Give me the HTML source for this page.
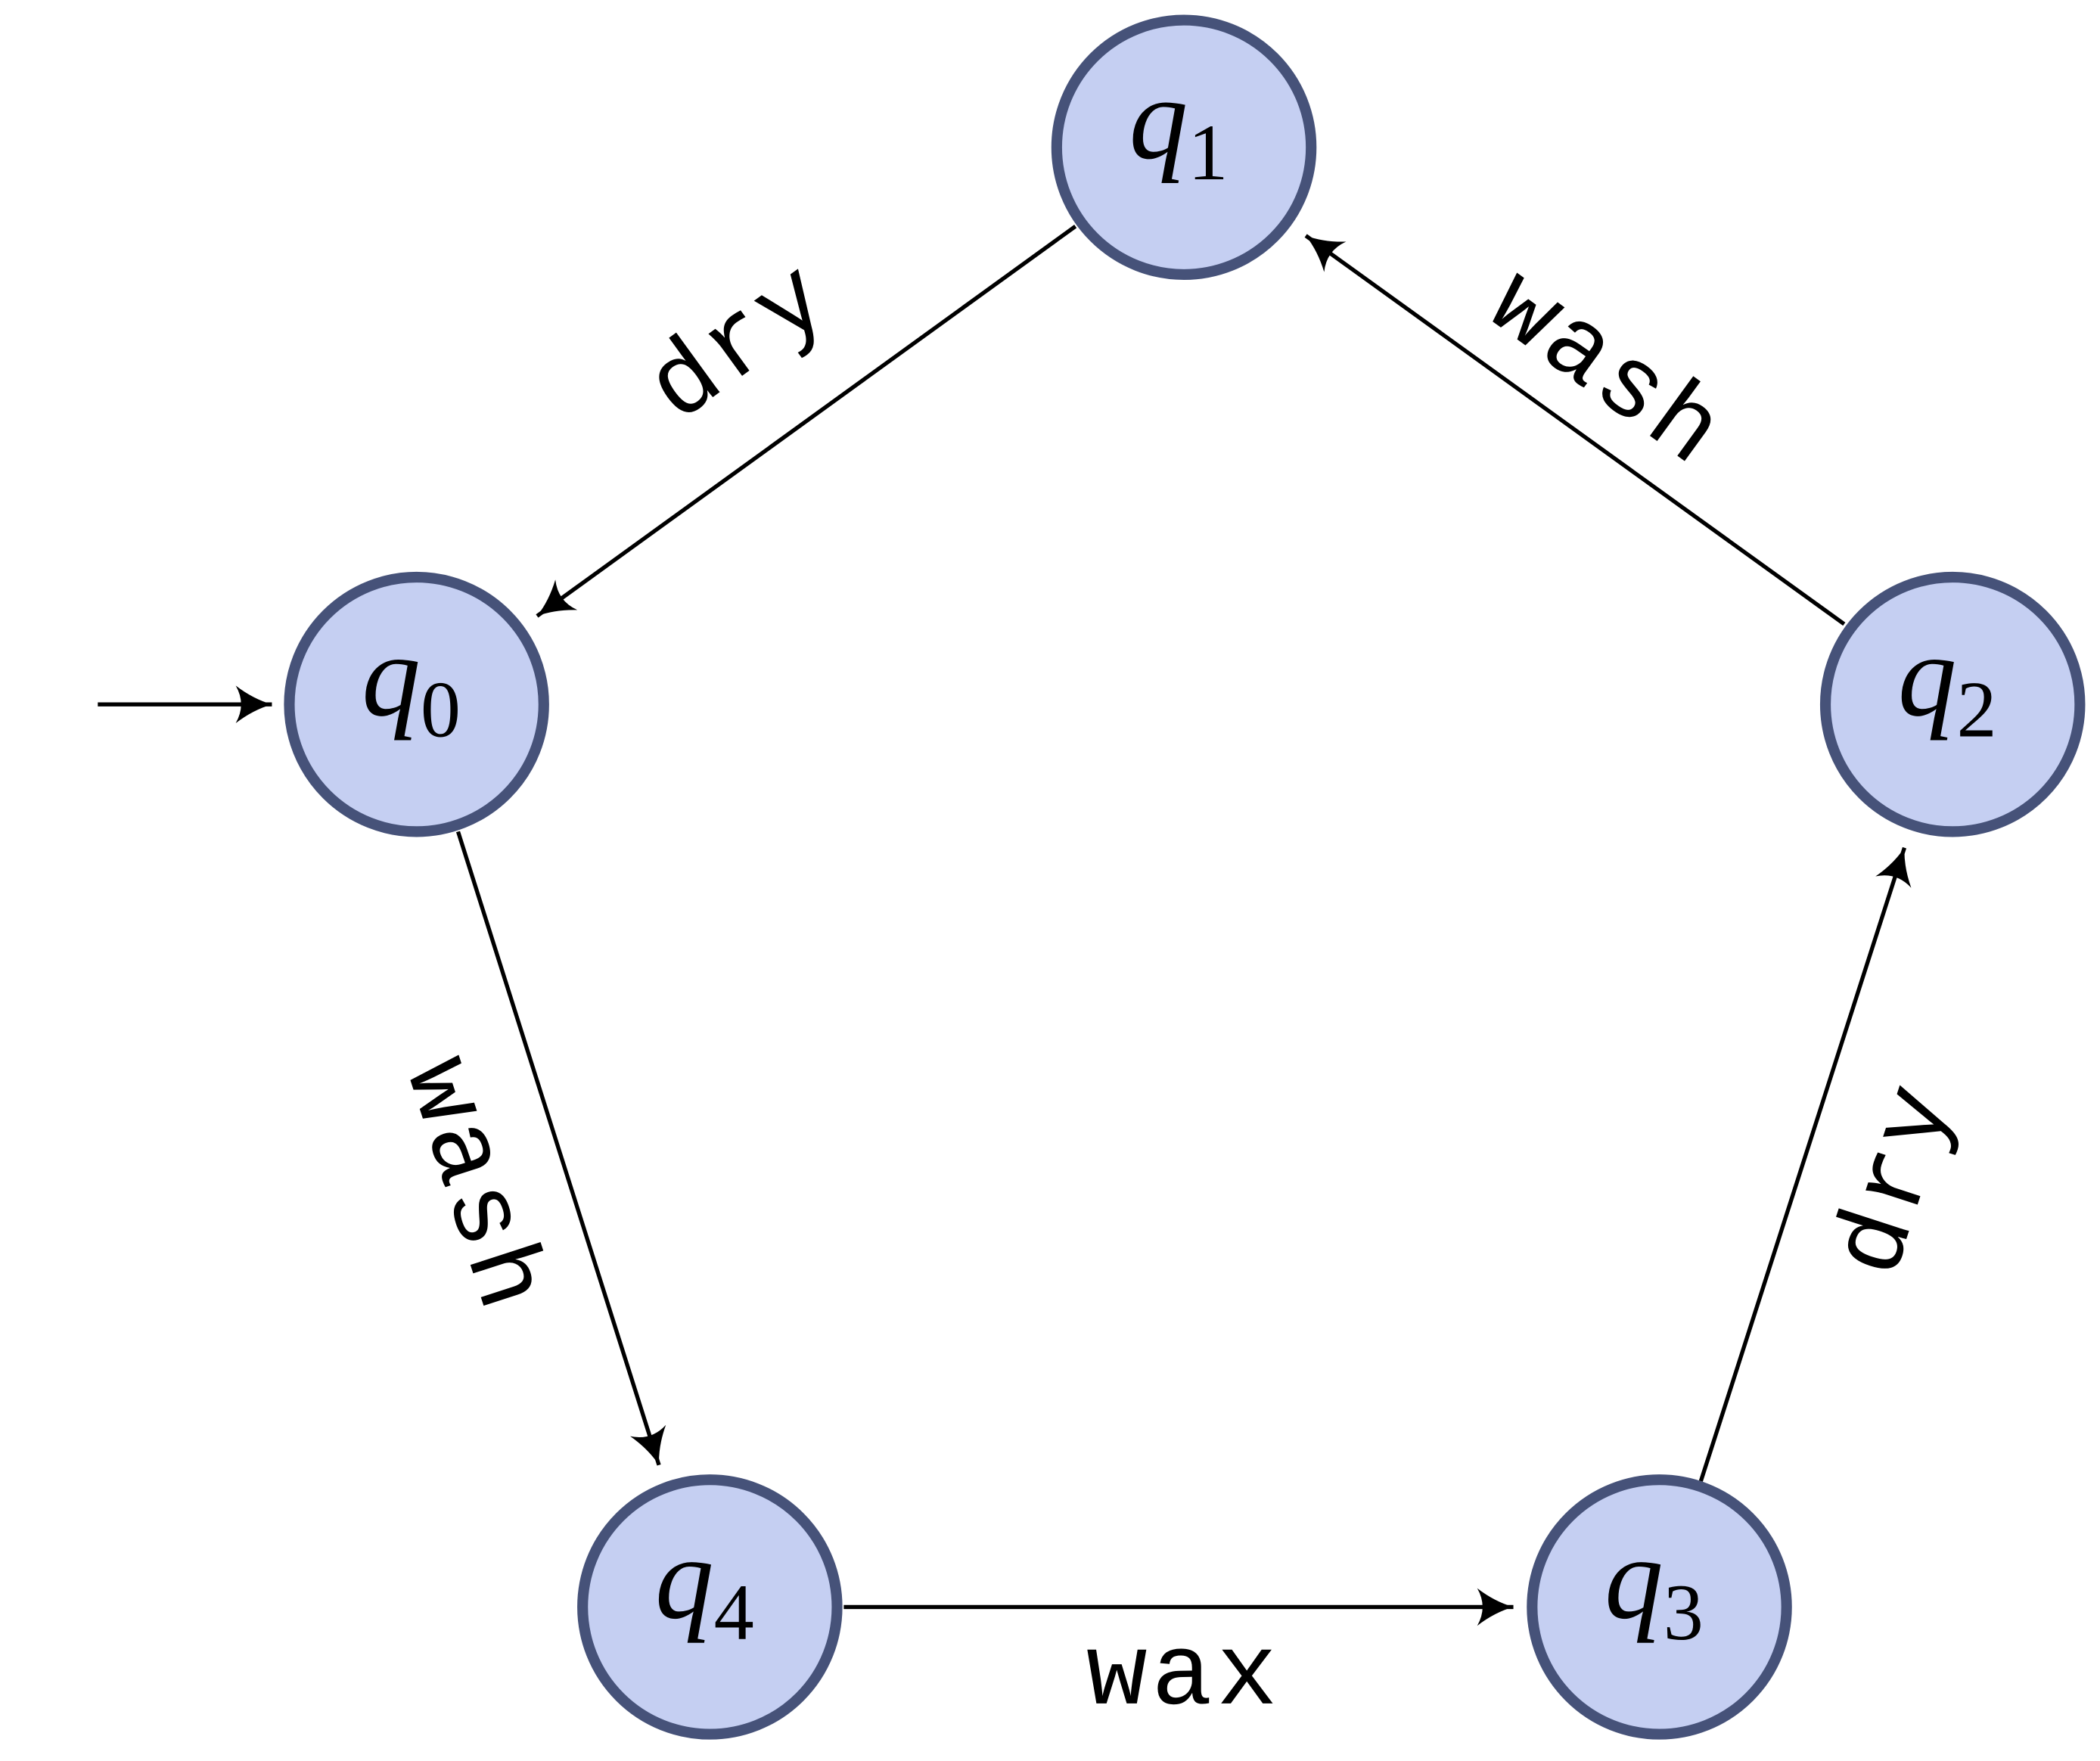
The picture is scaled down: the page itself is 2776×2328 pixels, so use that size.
<!DOCTYPE html>
<html><head><meta charset="utf-8"><style>
html,body{margin:0;padding:0;background:#fff;}
svg{display:block;}
.n{fill:#c5cff2;stroke:#465279;stroke-width:8;}
.e{stroke:#000;stroke-width:3;fill:none;}
.lab{font-family:"Liberation Mono",monospace;font-size:76px;letter-spacing:3px;fill:#000;}
.q{font-family:"Liberation Serif",serif;font-style:italic;font-size:88px;fill:#000;}
.s{font-family:"Liberation Serif",serif;font-style:normal;font-size:60px;}
</style></head><body>
<svg width="2776" height="2328" viewBox="0 0 1568 1315" xmlns="http://www.w3.org/2000/svg">
<defs>
<marker id="a" markerUnits="userSpaceOnUse" viewBox="-30 -16 32 32" refX="0" refY="0" markerWidth="32" markerHeight="32" orient="auto">
<path d="M0,0 Q-14,-4 -27,-14 Q-19,0 -27,14 Q-14,4 0,0Z" fill="#000"/>
</marker>
</defs>
<line class="e" x1="73" y1="526" x2="203" y2="526" marker-end="url(#a)"/>
<line class="e" x1="803" y1="169" x2="401" y2="460" marker-end="url(#a)"/>
<line class="e" x1="1377" y1="466" x2="975" y2="176" marker-end="url(#a)"/>
<line class="e" x1="342" y1="621" x2="492" y2="1094" marker-end="url(#a)"/>
<line class="e" x1="630" y1="1200" x2="1130" y2="1200" marker-end="url(#a)"/>
<line class="e" x1="1270" y1="1106" x2="1422" y2="633" marker-end="url(#a)"/>

<circle class="n" cx="884" cy="110" r="95"/>
<circle class="n" cx="311" cy="526" r="95"/>
<circle class="n" cx="1458" cy="526" r="95"/>
<circle class="n" cx="1239" cy="1200" r="95"/>
<circle class="n" cx="530" cy="1200" r="95"/>

<text class="q" x="843" y="118">q<tspan class="s" dy="16">1</tspan></text>
<text class="q" x="270" y="534">q<tspan class="s" dy="16">0</tspan></text>
<text class="q" x="1417" y="534">q<tspan class="s" dy="16">2</tspan></text>
<text class="q" x="1198" y="1208">q<tspan class="s" dy="16">3</tspan></text>
<text class="q" x="489" y="1208">q<tspan class="s" dy="16">4</tspan></text>

<text class="lab" text-anchor="middle" transform="translate(552,255) rotate(-36)" dy="22">dry</text>
<text class="lab" text-anchor="middle" transform="translate(1200,275) rotate(36)" dy="22">wash</text>
<text class="lab" text-anchor="middle" transform="translate(355,885) rotate(72)" dy="22">wash</text>
<text class="lab" text-anchor="middle" transform="translate(1415,880) rotate(-72)" dy="22">dry</text>
<text class="lab" text-anchor="middle" x="884" y="1272">wax</text>
</svg>
</body></html>
